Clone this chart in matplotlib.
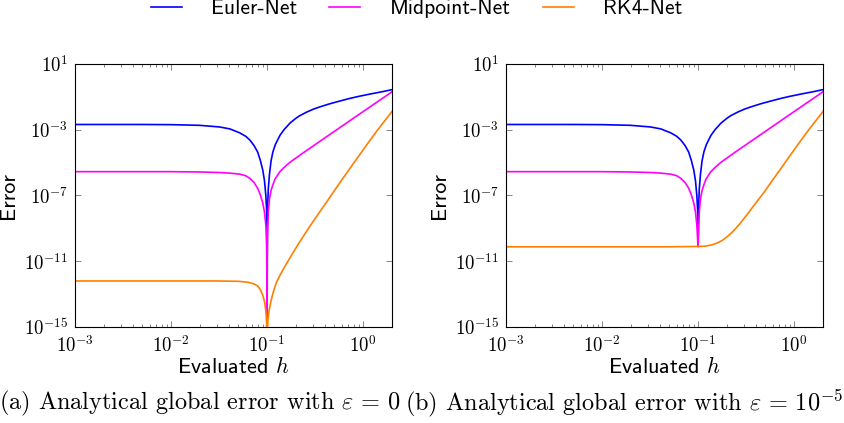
import matplotlib
matplotlib.use("Agg")
import matplotlib.pyplot as plt
import numpy as np
from matplotlib.ticker import FuncFormatter, LogLocator, NullLocator
from matplotlib.lines import Line2D

plt.rcParams['mathtext.fontset'] = 'cm'
plt.rcParams['axes.formatter.use_mathtext'] = True

# all error values are stored as log10(error)

# Euler-Net
h_euler = [0.001, 0.005, 0.01, 0.0197, 0.032, 0.041, 0.052, 0.06, 0.066, 0.073,
           0.0797, 0.085, 0.0902, 0.094, 0.0971, 0.099, 0.1, 0.101, 0.103, 0.106,
           0.11, 0.115, 0.122, 0.136, 0.15, 0.173, 0.2, 0.218, 0.26, 0.3,
           0.35, 0.45, 0.55, 0.72, 0.9, 1.2, 1.6, 2.0]
euler_a = [-2.68, -2.68, -2.69, -2.73, -2.83, -2.95, -3.19, -3.4, -3.62, -3.95,
           -4.35, -4.85, -5.45, -6.1, -7.0, -7.9, -16.0, -7.9, -6.6, -5.7,
           -4.9, -4.35, -3.9, -3.35, -3.0, -2.6, -2.3, -2.15, -1.92, -1.76,
           -1.62, -1.42, -1.28, -1.1, -0.97, -0.82, -0.68, -0.56]
euler_b = [-2.68, -2.68, -2.69, -2.73, -2.83, -2.95, -3.19, -3.4, -3.62, -3.95,
           -4.35, -4.85, -5.45, -6.1, -7.0, -7.9, -10.1, -7.9, -6.6, -5.7,
           -4.9, -4.35, -3.9, -3.35, -3.0, -2.6, -2.3, -2.15, -1.92, -1.76,
           -1.62, -1.42, -1.28, -1.1, -0.97, -0.82, -0.68, -0.56]

# Midpoint-Net
h_mid = [0.001, 0.01, 0.02, 0.032, 0.041, 0.052, 0.06, 0.066, 0.073, 0.0797,
         0.085, 0.0902, 0.094, 0.0971, 0.099, 0.0997, 0.1, 0.1003, 0.101, 0.103,
         0.106, 0.11, 0.115, 0.121, 0.136, 0.15, 0.173, 0.2, 0.218, 0.26,
         0.3, 0.35, 0.45, 0.55, 0.72, 0.9, 1.2, 1.6, 2.0]
midpoint_a = [-5.55, -5.55, -5.57, -5.6, -5.64, -5.7, -5.8, -5.95, -6.2, -6.55,
              -6.95, -7.45, -8.0, -8.8, -9.9, -11.0, -16.0, -11.0, -9.5, -8.0,
              -7.2, -6.7, -6.35, -6.0, -5.55, -5.3, -4.98, -4.72, -4.56, -4.25,
              -4.0, -3.73, -3.29, -2.94, -2.47, -2.08, -1.58, -1.08, -0.69]
midpoint_b = [-5.55, -5.55, -5.57, -5.6, -5.64, -5.7, -5.8, -5.95, -6.2, -6.55,
              -6.95, -7.45, -8.0, -8.8, -9.7, -10.0, -10.1, -10.0, -9.5, -8.0,
              -7.2, -6.7, -6.35, -6.0, -5.55, -5.3, -4.98, -4.72, -4.56, -4.25,
              -4.0, -3.73, -3.29, -2.94, -2.47, -2.08, -1.58, -1.08, -0.69]

# RK4-Net, panel (a)
h_rk4_a = [0.001, 0.03, 0.05, 0.06, 0.066, 0.073, 0.0797, 0.085, 0.0902, 0.094,
           0.0971, 0.099, 0.1, 0.1005, 0.102, 0.105, 0.11, 0.117, 0.125, 0.135,
           0.147, 0.165, 0.19, 0.22, 0.27, 0.33, 0.4, 0.49, 0.6, 0.73,
           0.9, 1.09, 1.4, 2.0]
rk4_a = [-12.2, -12.2, -12.22, -12.26, -12.3, -12.38, -12.5, -12.72, -13.05, -13.45,
         -14.0, -14.8, -17.0, -15.5, -14.6, -14.0, -13.4, -12.8, -12.3, -11.9,
         -11.5, -11.0, -10.4, -9.8, -9.0, -8.25, -7.55, -6.8, -6.05, -5.35,
         -4.6, -3.92, -3.05, -1.89]

# RK4-Net, panel (b)
h_rk4_b = [0.001, 0.01, 0.05, 0.1, 0.12, 0.14, 0.16, 0.18, 0.2, 0.23,
           0.27, 0.33, 0.4, 0.49, 0.6, 0.73, 0.9, 1.09, 1.4, 2.0]
rk4_b = [-10.12, -10.12, -10.12, -10.1, -10.08, -10.0, -9.88, -9.72, -9.52, -9.2,
         -8.75, -8.1, -7.45, -6.78, -6.05, -5.35, -4.6, -3.92, -3.05, -1.89]

names = ['Euler-Net', 'Midpoint-Net', 'RK4-Net']
colors = ['#0000ff', '#ff00ff', '#ff8000']
yticks = [1e-15, 1e-11, 1e-7, 1e-3, 1e1]

fig = plt.figure(figsize=(8.45, 4.23), dpi=100)
W, H = 845.0, 423.0
ax_a = fig.add_axes([75 / W, (H - 327) / H, 317 / W, 263 / H])
ax_b = fig.add_axes([506 / W, (H - 327) / H, 317 / W, 263 / H])

panels = [
    (ax_a, [(h_euler, euler_a), (h_mid, midpoint_a), (h_rk4_a, rk4_a)]),
    (ax_b, [(h_euler, euler_b), (h_mid, midpoint_b), (h_rk4_b, rk4_b)]),
]

fmt = FuncFormatter(lambda v, p: r'$10^{%d}$' % int(round(np.log10(v))))

for ax, series in panels:
    for (hx, ly), c in zip(series, colors):
        ax.plot(hx, 10.0 ** np.array(ly), color=c, lw=1.2)
    ax.set_xscale('log')
    ax.set_yscale('log')
    ax.set_xlim(1e-3, 2.0)
    ax.set_ylim(1e-15, 1e1)
    ax.set_yticks(yticks)
    ax.yaxis.set_minor_locator(NullLocator())
    ax.xaxis.set_major_locator(LogLocator(base=10, numticks=10))
    ax.xaxis.set_minor_locator(LogLocator(base=10, subs=np.arange(2, 10), numticks=20))
    ax.xaxis.set_major_formatter(fmt)
    ax.yaxis.set_major_formatter(fmt)
    ax.tick_params(which='both', direction='in', top=True, right=True, color='0.45', width=0.6)
    ax.tick_params(which='major', length=4, labelsize=13.5)
    ax.tick_params(which='minor', length=2.3)
    ax.tick_params(axis='x', pad=6)
    ax.tick_params(axis='y', pad=5)
    for s in ax.spines.values():
        s.set_linewidth(0.8)
    ax.set_ylabel('Error', family='cmss10', fontsize=16)
    ax.yaxis.set_label_coords(-0.18, 0.5)
    ax.set_xlabel('Evaluated $h$', family='cmss10', fontsize=16)
    ax.xaxis.set_label_coords(0.5, -0.112)

handles = [Line2D([], [], color=c, lw=1.2) for c in colors]
fig.legend(handles, names, loc='center', bbox_to_anchor=(0.493, 0.979),
           ncol=3, frameon=False, prop={'family': 'cmss10', 'size': 15.5},
           handlelength=1.44, handletextpad=1.35, columnspacing=1.5)

fig.text(200 / W, 1 - 403 / H, r'(a) Analytical global error with $\varepsilon\,=\,0$',
         ha='center', va='center', family='cmr10', fontsize=17.5)
fig.text(624 / W, 1 - 403 / H, r'(b) Analytical global error with $\varepsilon\,=\,10^{-5}$',
         ha='center', va='center', family='cmr10', fontsize=17.5)

fig.savefig('out.png', dpi=100)
